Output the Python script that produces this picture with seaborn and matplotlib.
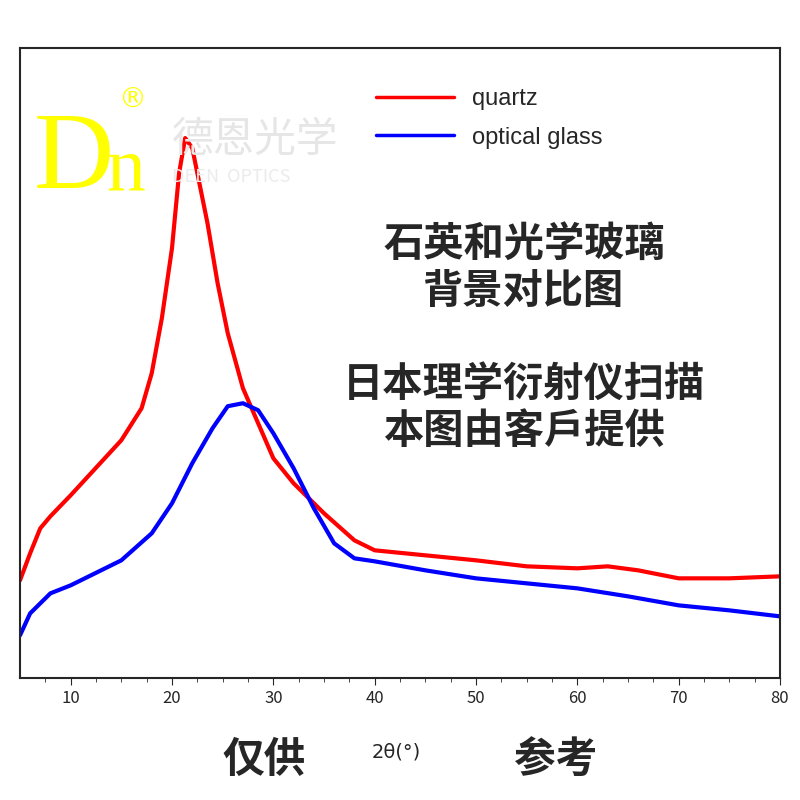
import matplotlib
matplotlib.use("Agg")
import matplotlib.pyplot as plt
import seaborn as sns
import pandas as pd

sns.set_style("ticks")
plt.rcParams['font.family'] = ['Noto Sans CJK SC', 'DejaVu Sans']

quartz_x = [5, 6, 7, 8, 10, 12, 15, 17, 18, 19, 20, 20.7, 21.3, 22, 22.7, 23.5, 24.5, 25.5, 27, 28.5, 30, 32, 35, 38, 40, 45, 50, 55, 60, 63, 66, 70, 75, 80]
quartz_y = [98, 125, 150, 162, 183, 205, 238, 270, 305, 360, 430, 505, 540, 530, 495, 455, 395, 345, 290, 255, 220, 195, 165, 138, 128, 123, 118, 112, 110, 112, 108, 100, 100, 102]
glass_x = [5, 6, 8, 10, 12, 15, 18, 20, 22, 24, 25.5, 27, 28.5, 30, 32, 34, 36, 38, 40, 45, 50, 55, 60, 65, 70, 75, 80]
glass_y = [43, 65, 85, 93, 103, 118, 145, 175, 215, 250, 272, 275, 268, 245, 210, 170, 135, 120, 117, 108, 100, 95, 90, 82, 73, 68, 62]

df = pd.concat([
    pd.DataFrame({"x": quartz_x, "y": quartz_y, "s": "quartz"}),
    pd.DataFrame({"x": glass_x, "y": glass_y, "s": "optical glass"}),
])

fig = plt.figure(figsize=(8, 8), dpi=100)
ax = fig.add_axes([0.025, 0.152, 0.95, 0.788])
sns.lineplot(data=df, x="x", y="y", hue="s", palette={"quartz": "#ff0000", "optical glass": "#0000ff"},
             linewidth=3, ax=ax, legend=False)
ax.set_xlim(5, 80)
ax.set_ylim(0, 630)
ax.set_yticks([])
ax.set_xticks([10, 20, 30, 40, 50, 60, 70, 80])
ax.set_xticks([7.5, 12.5, 15, 17.5, 22.5, 25, 27.5, 32.5, 35, 37.5, 42.5, 45, 47.5, 52.5, 55, 57.5, 62.5, 65, 67.5, 72.5, 75, 77.5], minor=True)
ax.tick_params(axis='x', labelsize=12, direction='out', length=5)
ax.tick_params(axis='x', which='minor', length=3)
ax.set_xlabel("")
ax.set_ylabel("")
for sp in ax.spines.values():
    sp.set_linewidth(1.5)

ax.plot([], [], color="#ff0000", lw=2.5, label="quartz")
ax.plot([], [], color="#0000ff", lw=2.5, label="optical glass")
ax.legend(loc="upper left", bbox_to_anchor=(0.44, 0.97), frameon=False,
          prop={"family": "Liberation Sans", "size": 17}, handlelength=3.3, labelspacing=0.7)

fig.text(0.042, 0.765, "D", color="#ffff00", fontsize=80, family="Liberation Serif")
fig.text(0.133, 0.762, "n", color="#ffff00", fontsize=56, family="Liberation Serif")
fig.text(0.148, 0.865, "®", color="#ffff00", fontsize=20, family="DejaVu Sans")
fig.text(0.215, 0.81, "德恩光学", color="#e6e6e6", fontsize=30)
fig.text(0.215, 0.772, "DEEN  OPTICS", color="#ebebeb", fontsize=13)

fig.text(0.655, 0.665, "石英和光学玻璃\n背景对比图", ha="center", va="center", fontsize=29, fontweight="heavy", linespacing=1.2)
fig.text(0.655, 0.49, "日本理学衍射仪扫描\n本图由客戶提供", ha="center", va="center", fontsize=29, fontweight="heavy", linespacing=1.2)

fig.text(0.33, 0.05, "仅供", ha="center", va="center", fontsize=30, fontweight="heavy")
fig.text(0.695, 0.05, "参考", ha="center", va="center", fontsize=30, fontweight="heavy")
fig.text(0.495, 0.06, "2θ(°)", ha="center", va="center", fontsize=14, family="DejaVu Sans")

fig.savefig("out.png", dpi=100, facecolor="white")
